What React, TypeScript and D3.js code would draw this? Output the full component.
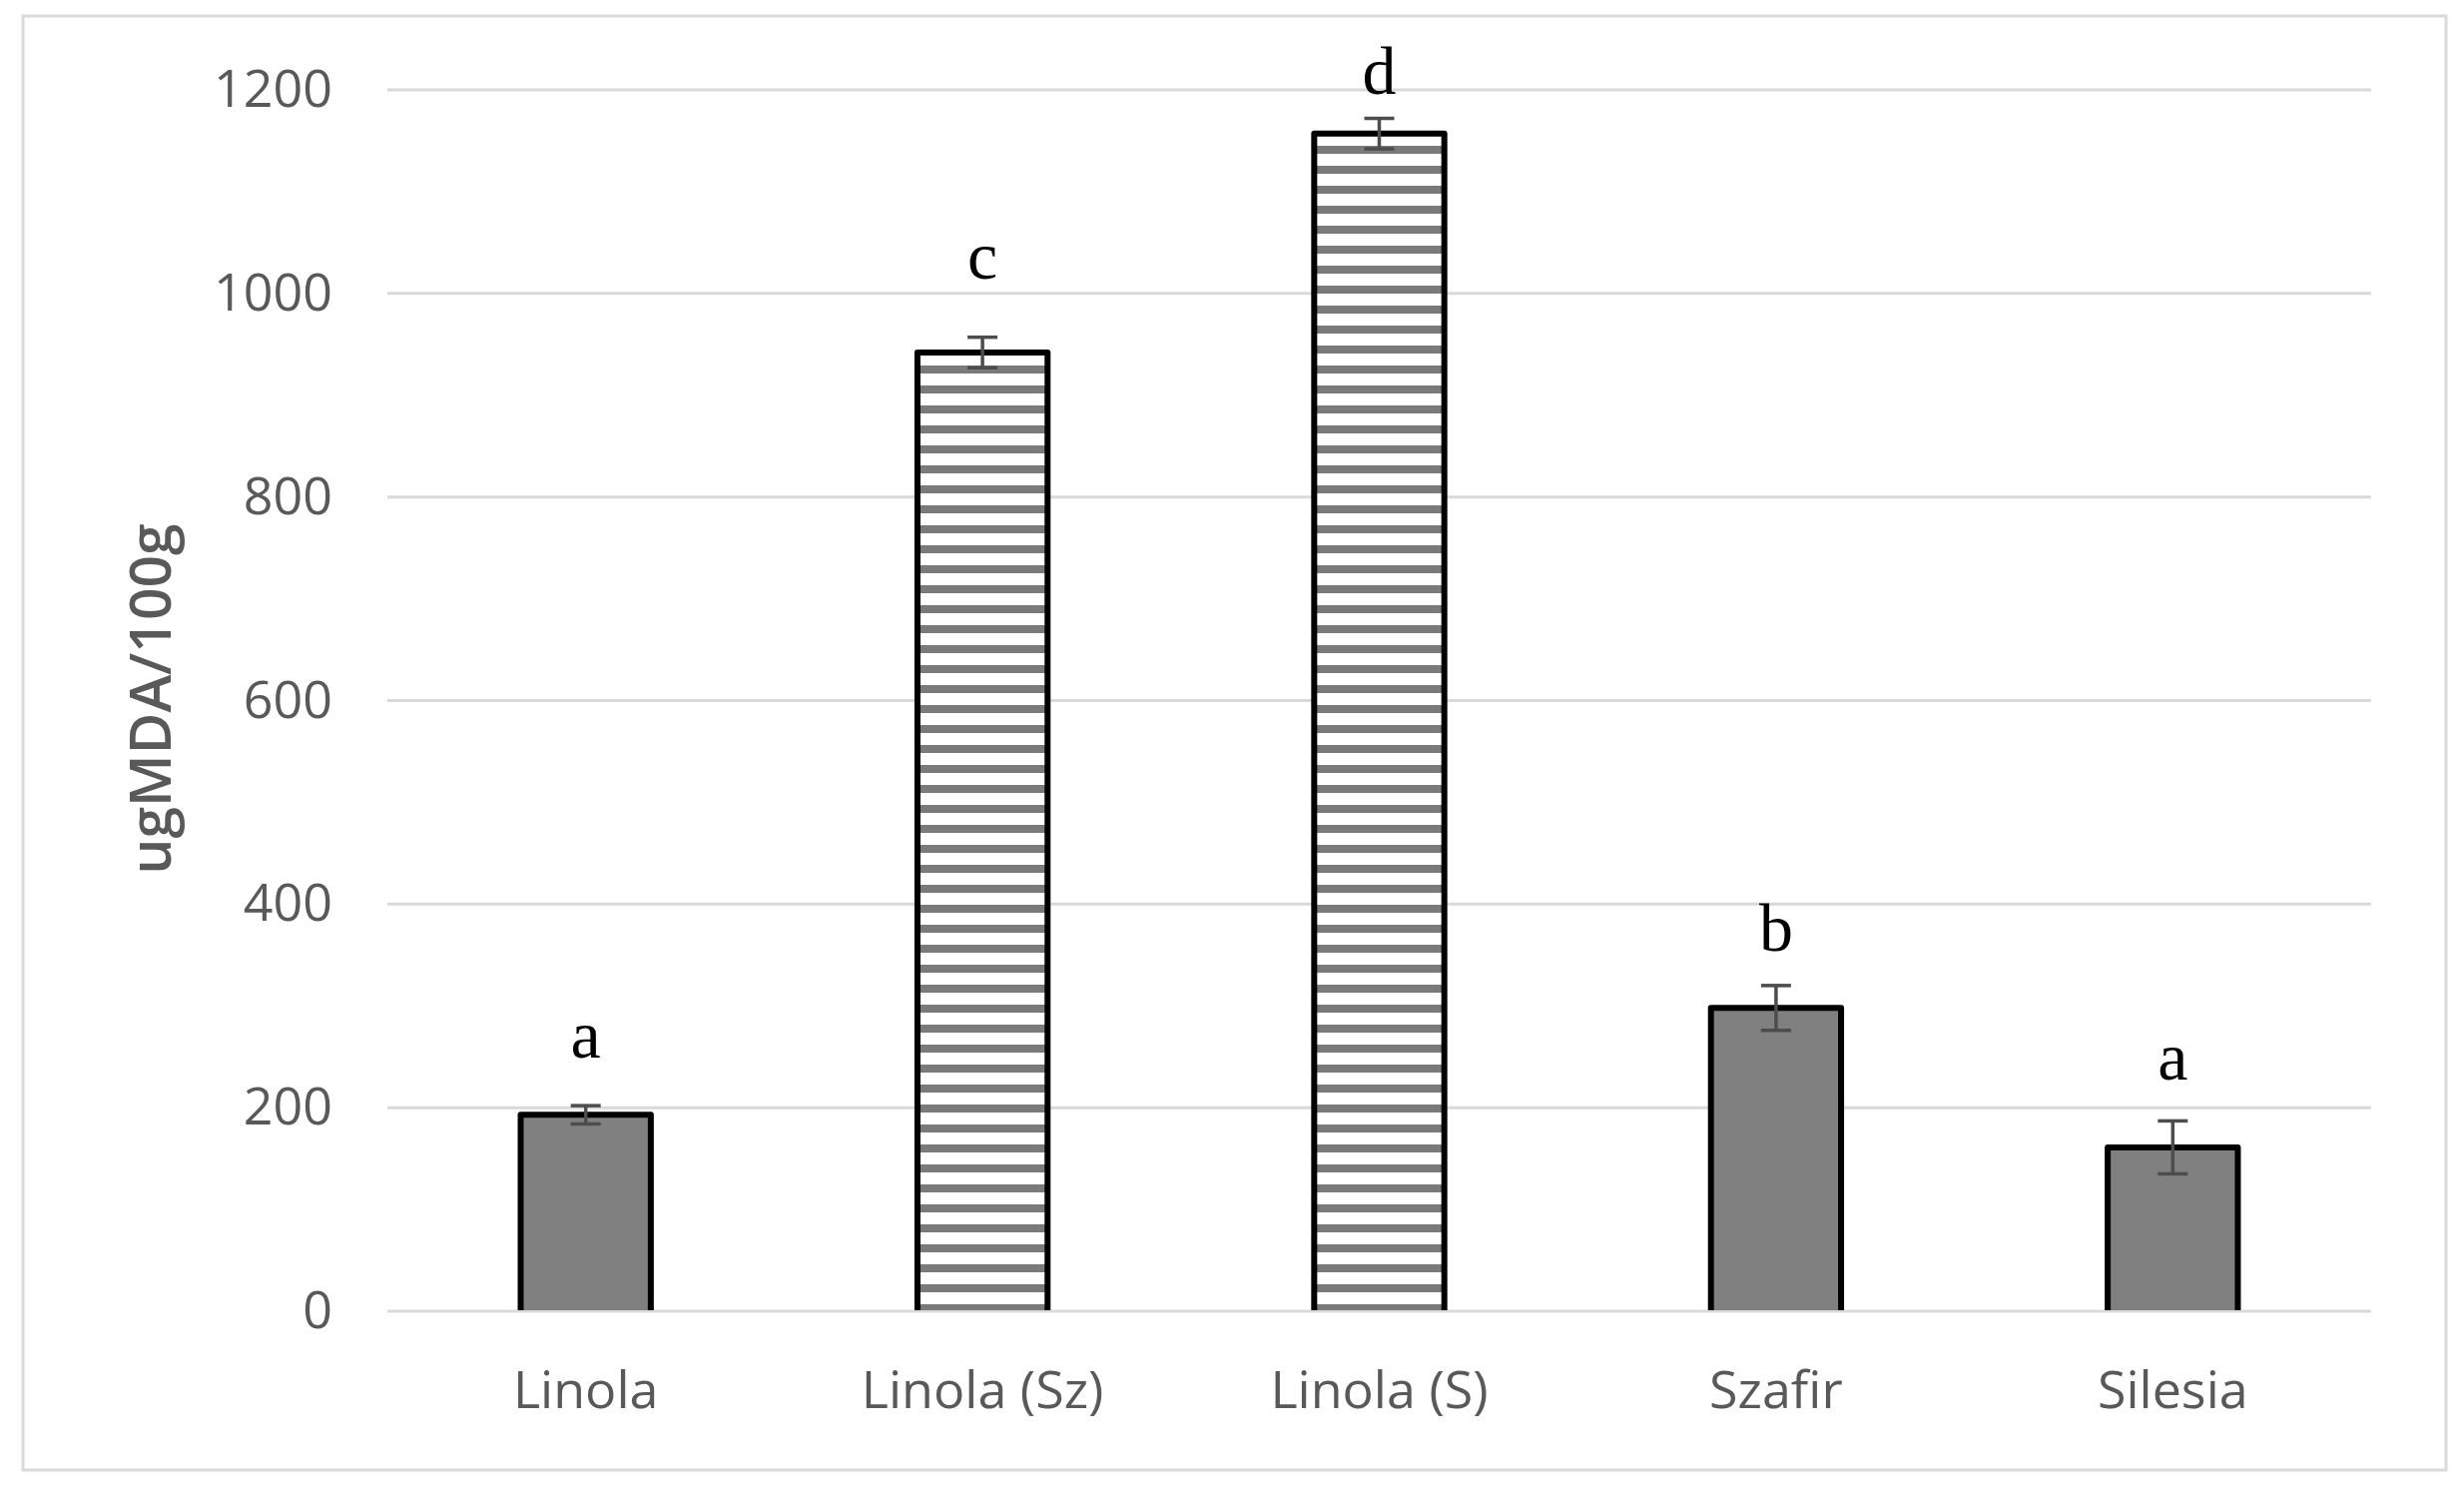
import React from "react";
import * as d3 from "d3";

const categories = ["Linola", "Linola (Sz)", "Linola (S)", "Szafir", "Silesia"];
const values = [193, 942, 1157, 298, 161];
const errors = [9, 15, 15, 22, 26];
const hatched = [false, true, true, false, false];
const letters = ["a", "c", "d", "b", "a"];
const letterLevels = [249, 1015, 1196, 354, 228];
const yTicks = [0, 200, 400, 600, 800, 1000, 1200];
const yTitle = "ugMDA/100g";

const W = 2468;
const H = 1492;
const plotLeft = 388;
const plotRight = 2375;
const plotTop = 90;
const plotBottom = 1313;

export default function App() {
  const x = d3.scaleBand<string>().domain(categories).range([plotLeft, plotRight]).paddingInner(0.672).paddingOuter(0.336);
  const y = d3.scaleLinear().domain([0, 1200]).range([plotBottom, plotTop]);
  const bw = x.bandwidth();
  const tickFont = "'Open Sans', 'DejaVu Sans', sans-serif";
  return (
    <svg width={W} height={H} style={{ position: "absolute", left: 0, top: 0, background: "#fff" }}>
      <defs>
        <pattern id="hstripes" patternUnits="userSpaceOnUse" width={20} height={20}>
          <rect x={0} y={0} width={20} height={20} fill="#ffffff" />
          <rect x={0} y={6} width={20} height={8} fill="#7a7a7a" />
        </pattern>
      </defs>
      <rect x={23} y={16} width={2427} height={1456} fill="#fff" stroke="#d9d9d9" strokeWidth={3} />
      {yTicks.map((t) => (
        <g key={t}>
          <line x1={plotLeft} x2={plotRight} y1={y(t)} y2={y(t)} stroke="#d9d9d9" strokeWidth={3} />
          <text x={333} y={y(t) + 17} textAnchor="end" fontFamily={tickFont} fontSize={52} fill="#595959">
            {t}
          </text>
        </g>
      ))}
      {categories.map((c, i) => {
        const bx = x(c)!;
        const cx = bx + bw / 2;
        const top = y(values[i]);
        const eTop = y(values[i] + errors[i]);
        const eBot = y(values[i] - errors[i]);
        const outline = `M${bx},${plotBottom - 1}V${top}H${bx + bw}V${plotBottom - 1}`;
        return (
          <g key={c}>
            <rect
              x={bx}
              y={top}
              width={bw}
              height={plotBottom - 1 - top}
              fill={hatched[i] ? "url(#hstripes)" : "#808080"}
            />
            <path d={outline} fill="none" stroke="#000" strokeWidth={6} strokeLinejoin="round" />
            <line x1={cx} x2={cx} y1={eTop} y2={eBot} stroke="#4d4d4d" strokeWidth={3.5} />
            <line x1={cx - 15} x2={cx + 15} y1={eTop} y2={eTop} stroke="#4d4d4d" strokeWidth={3.5} />
            <line x1={cx - 15} x2={cx + 15} y1={eBot} y2={eBot} stroke="#4d4d4d" strokeWidth={3.5} />
            <text x={cx} y={y(letterLevels[i])} textAnchor="middle" fontFamily="'Liberation Serif', 'Times New Roman', serif" fontSize={68} fill="#000">
              {letters[i]}
            </text>
            <text x={cx} y={1410} textAnchor="middle" fontFamily={tickFont} fontSize={52} fill="#595959">
              {c}
            </text>
          </g>
        );
      })}
      <text
        transform={`translate(171,700) rotate(-90)`}
        textAnchor="middle"
        fontFamily={tickFont}
        fontWeight={600}
        fontSize={57}
        fill="#595959"
      >
        {yTitle}
      </text>
    </svg>
  );
}
